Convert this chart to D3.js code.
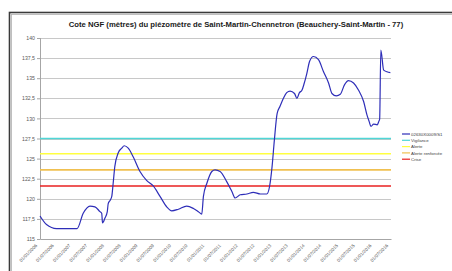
<!DOCTYPE html>
<html>
<head>
<meta charset="utf-8">
<script src="https://cdn.jsdelivr.net/npm/d3@7"></script>
<style>
  body { margin: 0; background: #fff; }
  svg { display: block; }
</style>
</head>
<body>
<div id="chart"></div>
<script>
var svgWidth = 452;
var svgHeight = 271;

// piezometer readings (date, cote NGF)
var dates = ["2006-01-01","2006-03-13","2006-07-01","2007-02-10","2007-04-18","2007-07-01","2007-08-24","2007-10-18","2007-11-06","2007-11-15","2007-12-12","2008-01-06","2008-01-16","2008-02-05","2008-02-24","2008-03-10","2008-03-28","2008-05-04","2008-06-12","2008-07-09","2008-08-22","2008-10-16","2008-12-28","2009-03-10","2009-05-22","2009-08-04","2009-10-16","2009-12-10","2010-02-21","2010-05-22","2010-08-04","2010-09-27","2010-11-03","2010-11-21","2010-12-28","2011-02-21","2011-03-28","2011-05-22","2011-08-04","2011-09-28","2011-11-03","2011-12-28","2012-03-10","2012-05-19","2012-08-04","2012-09-25","2012-10-13","2012-11-12","2012-12-10","2013-01-04","2013-02-03","2013-03-07","2013-04-13","2013-05-19","2013-06-25","2013-08-12","2013-09-07","2013-10-05","2013-11-01","2013-11-27","2013-12-25","2014-01-24","2014-03-07","2014-05-01","2014-06-25","2014-08-19","2014-09-25","2014-11-12","2014-12-25","2015-02-10","2015-03-24","2015-05-19","2015-07-13","2015-09-06","2015-10-13","2015-11-06","2015-11-25","2015-12-24","2016-02-01","2016-02-18","2016-02-28","2016-03-12","2016-04-12","2016-05-18","2016-06-24"];
var levels = [117.86,116.8,116.3,116.3,118.2,119.1,119.0,118.4,118.2,117.0,117.6,118.4,119.4,119.8,120.3,121.9,124.0,125.7,126.3,126.6,126.3,125.2,123.4,122.3,121.6,120.3,119.0,118.5,118.7,119.1,118.8,118.4,118.1,120.3,121.9,123.4,123.6,123.4,122.1,120.9,120.1,120.5,120.6,120.8,120.6,120.6,120.6,121.5,124.0,127.3,130.6,131.5,132.5,133.2,133.4,133.1,132.5,133.2,133.5,134.4,135.6,137.1,137.7,137.3,135.8,134.4,133.1,132.8,133.0,134.2,134.7,134.4,133.5,132.1,130.4,129.6,129.0,129.3,129.2,129.6,129.9,138.5,136.0,135.8,135.7,135.3];

// alert thresholds
var thresholdNames = ["Vigilance", "Alerte", "Alerte renforcée", "Crise"];
var thresholdValues = [127.5, 125.6, 123.6, 121.6];
var thresholdColors = ["#4fd6d6", "#ffff40", "#f0c050", "#e82020"];

var seriesName = "02630X0009/S1";
var seriesColor = "#2e2eb8";

var yTicks = [115, 117.5, 120, 122.5, 125, 127.5, 130, 132.5, 135, 137.5, 140];
var xStart = "2006-01-01";
var xEnd = "2016-07-01";

var margin = { top: 38, left: 40, right: 61, bottom: 32 };
var width = svgWidth - margin.left - margin.right;
var height = svgHeight - margin.top - margin.bottom;

var parse = d3.timeParse("%Y-%m-%d");
// french number format : comma as decimal separator
var frLocale = d3.formatLocale({ decimal: ",", thousands: " ", grouping: [3], currency: ["", " €"] });
var yFmt = frLocale.format("~f");

var series = dates.map((d, i) => ({ date: parse(d), value: levels[i] }));

var svg = d3.select("#chart")
    .append("svg")
    .attr("width", svgWidth)
    .attr("height", svgHeight);

// chart frame (excel style border)
svg.append("rect")
    .attr("x", 9.5).attr("y", 12.5)
    .attr("width", 460).attr("height", 280)
    .attr("fill", "none")
    .attr("stroke", "#3a3a3a")
    .attr("stroke-width", 1.6);
svg.append("rect")
    .attr("x", 11.5).attr("y", 14.5)
    .attr("width", 460).attr("height", 280)
    .attr("fill", "none")
    .attr("stroke", "#b0b0b0")
    .attr("stroke-width", 0.8);

svg.append("text")
    .attr("x", 236)
    .attr("y", 27)
    .attr("text-anchor", "middle")
    .attr("font-family", "Liberation Sans, Arial, sans-serif")
    .attr("font-weight", "bold")
    .attr("font-size", 7.7)
    .attr("fill", "#1a1a1a")
    .text("Cote NGF (mètres) du piézomètre de Saint-Martin-Chennetron (Beauchery-Saint-Martin - 77)");

var chartGroup = svg.append("g")
    .attr("transform", `translate(${margin.left}, ${margin.top})`);

var xScale = d3.scaleTime()
    .domain([parse(xStart), parse(xEnd)])
    .range([0, width]);

var yScale = d3.scaleLinear()
    .domain([115, 140])
    .range([height, 0]);

// gridlines
chartGroup.append("g")
    .selectAll("line")
    .data(yTicks)
    .enter()
    .append("line")
    .attr("x1", 0)
    .attr("x2", width)
    .attr("y1", d => Math.round(yScale(d)) + 0.5)
    .attr("y2", d => Math.round(yScale(d)) + 0.5)
    .attr("stroke", "#c8c8c8")
    .attr("stroke-width", 1);

// y axis
var leftAxis = d3.axisLeft(yScale)
    .tickValues(yTicks)
    .tickSize(3)
    .tickPadding(2)
    .tickFormat(yFmt);

var yAxisG = chartGroup.append("g").call(leftAxis);
yAxisG.select(".domain").attr("stroke", "#a6a6a6").attr("d", `M0.5,0V${height}`);
yAxisG.selectAll(".tick line").attr("stroke", "#a6a6a6");
yAxisG.selectAll("text")
    .attr("font-family", "Liberation Sans, Arial, sans-serif")
    .attr("font-size", 5.2)
    .attr("fill", "#595959");

// x axis
var xTicks = d3.timeMonth.every(6).range(parse(xStart), d3.timeDay.offset(parse(xEnd), 1));
var bottomAxis = d3.axisBottom(xScale)
    .tickValues(xTicks)
    .tickSize(0)
    .tickFormat(d3.timeFormat("%d/%m/%Y"));

var xAxisG = chartGroup.append("g")
    .attr("transform", `translate(0, ${height})`)
    .call(bottomAxis);
xAxisG.select(".domain").attr("stroke", "#a6a6a6");
xAxisG.selectAll("text")
    .attr("font-family", "Liberation Sans, Arial, sans-serif")
    .attr("font-size", 4.6)
    .attr("fill", "#595959")
    .attr("text-anchor", "end")
    .attr("dy", null)
    .attr("y", 0)
    .attr("transform", "translate(-3, 7) rotate(-45)");

// thresholds
chartGroup.append("g")
    .selectAll("line")
    .data(thresholdValues)
    .enter()
    .append("line")
    .attr("x1", 0)
    .attr("x2", width)
    .attr("y1", d => yScale(d))
    .attr("y2", d => yScale(d))
    .attr("stroke", (d, i) => thresholdColors[i])
    .attr("stroke-width", 1.6);

// piezometer line
var line = d3.line()
    .x(d => xScale(d.date))
    .y(d => yScale(d.value))
    .curve(d3.curveMonotoneX);

chartGroup.append("path")
    .datum(series)
    .attr("d", line)
    .attr("fill", "none")
    .attr("stroke", seriesColor)
    .attr("stroke-width", 1.2);

// legend
var legendNames = [seriesName].concat(thresholdNames);
var legendColors = [seriesColor].concat(thresholdColors);
var legend = svg.append("g")
    .attr("transform", "translate(402, 134)");

var rows = legend.selectAll("g")
    .data(legendNames)
    .enter()
    .append("g")
    .attr("transform", (d, i) => `translate(0, ${i * 6.3})`);

rows.append("line")
    .attr("x1", 0).attr("x2", 8)
    .attr("stroke", (d, i) => legendColors[i])
    .attr("stroke-width", 1.2);

rows.append("text")
    .attr("x", 9)
    .attr("y", 1.6)
    .attr("font-family", "Liberation Sans, Arial, sans-serif")
    .attr("font-size", 4.4)
    .attr("fill", "#404040")
    .text(d => d);
</script>
</body>
</html>
